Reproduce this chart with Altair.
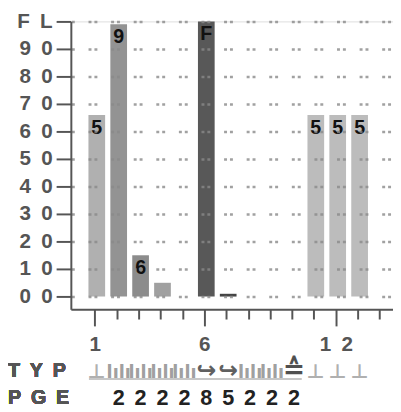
import altair as alt
import pandas as pd

categories = list(range(1, 14))
values = [66, 99, 15, 5, 0, 100, 1, 0, 0, 0, 66, 66, 66]
bar_labels = ["5", "9", "6", "", "", "F", "", "", "", "", "5", "5", "5"]
bar_colors = ["#b0b0b0", "#939393", "#8c8c8c", "#a0a0a0", "#a0a0a0", "#585858",
              "#444444", "#a0a0a0", "#a0a0a0", "#a0a0a0", "#bcbcbc", "#bcbcbc", "#bcbcbc"]
typ_icons = ["⊥", "lılı", "lılı", "lılı", "lılı", "↪", "↪", "lılı", "lılı", "≙", "⊥", "⊥", "⊥"]
typ_colors = ["#b0b0b0", "#a0a0a0", "#a0a0a0", "#a0a0a0", "#a0a0a0", "#606060", "#606060",
              "#a0a0a0", "#a0a0a0", "#505050", "#b0b0b0", "#b0b0b0", "#b0b0b0"]
typ_sizes = [20, 18, 18, 18, 18, 24, 24, 18, 18, 27, 20, 20, 20]
pge_values = ["", "2", "2", "2", "2", "8", "5", "2", "2", "2", "", "", ""]
y_ticks = [0, 10, 20, 30, 40, 50, 60, 70, 80, 90, 100]
y_tick_labels = ["0\u20020", "1\u20020", "2\u20020", "3\u20020", "4\u20020", "5\u20020",
                 "6\u20020", "7\u20020", "8\u20020", "9\u20020", "F\u2002L"]
x_ticks = list(range(1, 15))
x_major = [1, 6, 12]
x_major_labels = ["1", "6", "1\u20022"]
row_labels = ["T\u2002Y\u2002P", "P\u2002G\u2002E"]

df = pd.DataFrame({
    "cat": categories, "value": values, "label": bar_labels, "color": bar_colors,
    "icon": typ_icons, "icolor": typ_colors, "isize": typ_sizes, "pge": pge_values,
})

FONT = "Liberation Sans"
xscale = alt.Scale(domain=[0.13, 14.39], nice=False, zero=False)
yscale = alt.Scale(domain=[-4.6, 100], nice=False, zero=False)

ylab_expr = "{" + ",".join(f"'{v}':'{l}'" for v, l in zip(y_ticks, y_tick_labels)) + "}[datum.value]"
xlab_expr = "{" + ",".join(f"'{v}':'{l}'" for v, l in zip(x_major, x_major_labels)) + "}[datum.value] || ''"
major_test = " || ".join(f"datum.value == {v}" for v in x_major)

common = dict(
    labelOverlap=False, labelBound=False, labelFlush=False, labelSeparation=0,
    tickWidth=2, tickColor="#555555", domainColor="#555555", domainWidth=2,
    labelFont=FONT, labelFontSize=21, labelFontWeight="bold", labelColor="#555555",
    title=None,
)
xaxis = alt.Axis(
    values=x_ticks, labelExpr=xlab_expr, grid=False,
    tickSize={"condition": {"test": major_test, "value": 17}, "value": 10},
    labelPadding=8, **common,
)
yaxis = alt.Axis(
    values=y_ticks, labelExpr=ylab_expr, grid=True,
    gridDash=[3, 3, 3, 14], gridDashOffset=5.5, gridColor="#8a8a8a", gridWidth=2.5, gridOpacity=0.8,
    tickSize=15, labelPadding=4, zindex=1, **common,
)

X = lambda f: alt.X(f, scale=xscale, axis=xaxis)
Y = lambda f: alt.Y(f, scale=yscale, axis=yaxis)

base = alt.Chart(df)

bars = base.mark_bar(width=17, xOffset=2).encode(
    x=X("cat:Q"),
    y=Y("value:Q"),
    y2=alt.datum(0),
    color=alt.Color("color:N", scale=None),
)

labels = base.mark_text(font=FONT, fontSize=20, fontWeight="bold", color="#111111",
                        baseline="top", dy=3, xOffset=2).encode(
    x=X("cat:Q"),
    y=Y("value:Q"),
    text="label:N",
)

icons = base.mark_text(font="DejaVu Sans", fontWeight="bold", baseline="alphabetic", dx=2).encode(
    x=X("cat:Q"),
    y=alt.value(363),
    text="icon:N",
    color=alt.Color("icolor:N", scale=None),
    size=alt.Size("isize:Q", scale=None),
)

line_df = pd.DataFrame({"start": [categories[0]], "end": [categories[9]]})
underline = alt.Chart(line_df).mark_rule(color="#b5b5b5", strokeWidth=1.5, xOffset=-6, x2Offset=10).encode(
    x=X("start:Q"),
    x2="end:Q",
    y=alt.value(364),
)

pge = base.mark_text(font=FONT, fontSize=22, fontWeight="bold", color="#222222",
                     baseline="middle", dx=2).encode(
    x=X("cat:Q"),
    y=alt.value(384),
    text="pge:N",
)

row_typ = alt.Chart(df).mark_text(font=FONT, fontSize=20, fontWeight="bold", color="#555555",
                                  align="left", baseline="middle").encode(
    x=alt.value(-64), y=alt.value(356), text=alt.value(row_labels[0]),
)
row_pge = alt.Chart(df).mark_text(font=FONT, fontSize=20, fontWeight="bold", color="#555555",
                                  align="left", baseline="middle").encode(
    x=alt.value(-64), y=alt.value(384), text=alt.value(row_labels[1]),
)

chart = alt.layer(bars, labels, underline, icons, pge, row_typ, row_pge).properties(
    width=328, height=293,
    autosize=alt.AutoSizeParams(type="none"),
    padding={"left": 64, "top": 10, "right": 0, "bottom": 101},
).configure_view(stroke=None).configure(background="white")

chart.save("out.html", embed_options={"renderer": "svg", "actions": False})
